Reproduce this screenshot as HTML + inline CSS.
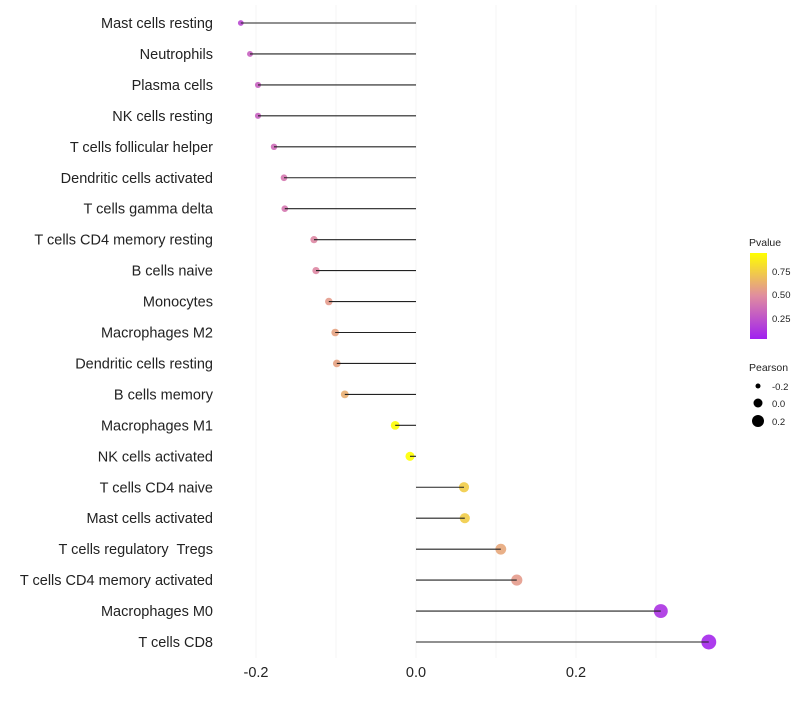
<!DOCTYPE html>
<html><head><meta charset="utf-8"><style>
body{margin:0;background:#fff;font-family:"Liberation Sans",sans-serif}
</style></head><body>
<svg id="chart" width="800" height="700" xmlns="http://www.w3.org/2000/svg" font-family="Liberation Sans, sans-serif">
<defs><linearGradient id="pg" x1="0" y1="1" x2="0" y2="0">
<stop offset="0" stop-color="#a020f0"/><stop offset="0.5" stop-color="#e08ca0"/><stop offset="1" stop-color="#ffff00"/></linearGradient></defs>
<g id="grid"></g><g id="dots"></g><g id="marks"></g><g id="labels"></g>
<g font-size="9.5" fill="#222">
<text x="749" y="246" font-size="10.5">Pvalue</text>
<rect x="750" y="253" width="17" height="86" fill="url(#pg)"/>
<text x="772" y="275">0.75</text>
<text x="772" y="298">0.50</text>
<text x="772" y="322">0.25</text>
<text x="749" y="371" font-size="10.5">Pearson</text>
<circle cx="758" cy="386" r="2.5" fill="#000"/><text x="772" y="390">-0.2</text>
<circle cx="758" cy="403" r="4.5" fill="#000"/><text x="772" y="407">0.0</text>
<circle cx="758" cy="421" r="6" fill="#000"/><text x="772" y="425">0.2</text>
</g>
</svg>
<script>
const categories=["Mast cells resting","Neutrophils","Plasma cells","NK cells resting","T cells follicular helper","Dendritic cells activated","T cells gamma delta","T cells CD4 memory resting","B cells naive","Monocytes","Macrophages M2","Dendritic cells resting","B cells memory","Macrophages M1","NK cells activated","T cells CD4 naive","Mast cells activated","T cells regulatory  Tregs","T cells CD4 memory activated","Macrophages M0","T cells CD8"];
const pearson=[-0.219,-0.2075,-0.1975,-0.1975,-0.1775,-0.165,-0.164,-0.1275,-0.125,-0.109,-0.101,-0.099,-0.089,-0.026,-0.0075,0.06,0.061,0.106,0.126,0.306,0.366];
const pvalue=[0.2,0.3,0.3,0.3,0.35,0.4,0.4,0.47,0.47,0.55,0.58,0.58,0.63,0.95,0.98,0.75,0.75,0.6,0.55,0.1,0.05];
const xTicks=[-0.2,0.0,0.2];
const xGrid=[-0.2,-0.1,0,0.1,0.2,0.3];
const NS="http://www.w3.org/2000/svg";
const xs=v=>416+v*800;
const ys=i=>23+i*30.95;
const rs=v=>Math.max(1.7,4.6+7.8*v);
function col(p){let t=(p-0.02)/0.94;t=Math.max(0,Math.min(1,t));
const a=[160,32,240],m=[224,140,160],b=[255,255,0];let c;
if(t<0.5){const u=t/0.5;c=a.map((x,k)=>x+(m[k]-x)*u);}else{const u=(t-0.5)/0.5;c=m.map((x,k)=>x+(b[k]-x)*u);}
return `rgb(${c.map(Math.round).join(',')})`;}
function mk(t,at,p){const e=document.createElementNS(NS,t);for(const k in at)e.setAttribute(k,at[k]);p.appendChild(e);return e;}
const G=document.getElementById('grid'),M=document.getElementById('marks'),D=document.getElementById('dots'),L=document.getElementById('labels');
xGrid.forEach(v=>{const l=mk('line',{x1:xs(v),x2:xs(v),y1:5,y2:658,stroke:'#f2f2f2','stroke-width':0.8},G);

});
xTicks.forEach(v=>{const t=mk('text',{x:xs(v),y:677,'text-anchor':'middle','font-size':14.5,fill:'#222'},L);t.textContent=v.toFixed(1);

});
categories.forEach((c,i)=>{const y=ys(i);
const t=mk('text',{x:213,y:y+5,'text-anchor':'end','font-size':14.5,fill:'#222'},L);t.textContent=c;
t.setAttribute('style','white-space:pre');


const d=mk('circle',{cx:xs(pearson[i]),cy:y,r:rs(pearson[i]),fill:col(pvalue[i]),'fill-opacity':0.9},D);


const l=mk('line',{x1:xs(0),x2:xs(pearson[i]),y1:y,y2:y,stroke:'#222','stroke-width':1.1},M);

});
</script>
</body></html>
